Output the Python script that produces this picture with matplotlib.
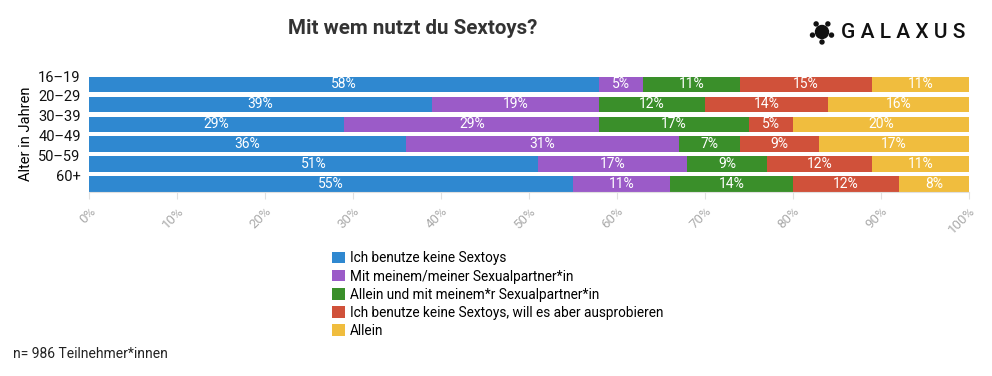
import numpy as np
import matplotlib
matplotlib.use("Agg")
import matplotlib.pyplot as plt
from matplotlib.patches import Patch, Circle

plt.rcParams['font.family'] = ['Roboto', 'DejaVu Sans']

ages = ["16–19", "20–29", "30–39", "40–49", "50–59", "60+"]
answers = ["Ich benutze keine Sextoys",
           "Mit meinem/meiner Sexualpartner*in",
           "Allein und mit meinem*r Sexualpartner*in",
           "Ich benutze keine Sextoys, will es aber ausprobieren",
           "Allein"]
keine      = [58, 39, 29, 36, 51, 55]
partner    = [5, 19, 29, 31, 17, 11]
beides     = [11, 12, 17, 7, 9, 14]
probieren  = [15, 14, 5, 9, 12, 12]
allein     = [11, 16, 20, 17, 11, 8]
colors = ["#2f88d0", "#9b5bc8", "#3a8f2a", "#d0513a", "#f0bd3e"]

series = [keine, partner, beides, probieren, allein]

fig = plt.figure(figsize=(9.92, 3.76), dpi=100)
ax = fig.add_axes([89/992, 1-192/376, 880/992, 116/376])

y = np.arange(len(ages))
left = np.zeros(len(ages))
for vals, col in zip(series, colors):
    vals = np.array(vals, dtype=float)
    ax.barh(y, vals, left=left, height=0.78, color=col, edgecolor='none', zorder=2)
    for yi, (l, v) in enumerate(zip(left, vals)):
        ax.text(l + v/2, yi, f"{int(v)}%", ha='center', va='center',
                color='white', fontsize=10, zorder=3)
    left += vals

ax.set_xlim(0, 100)
ax.set_ylim(len(ages) - 0.5 - 0.11, -0.5 + 0.11)
ax.set_xticks(np.arange(0, 101, 10))
ax.set_xticklabels([f"{t}%" for t in range(0, 101, 10)], rotation=45,
                   ha='right', va='top', rotation_mode='anchor', color='#aaaaaa', fontsize=9.5)
ax.set_yticks(y - 0.42)
ax.set_yticklabels(ages, fontsize=10.5, color='#111111')
ax.tick_params(axis='y', length=0, pad=6)
ax.tick_params(axis='x', length=5, color='#e0e0e0', pad=4)
for s in ['top', 'right', 'left']:
    ax.spines[s].set_visible(False)
ax.spines['bottom'].set_color('#e0e0e0')
ax.set_ylabel("Alter in Jahren", fontsize=10.5, labelpad=4)

fig.text(413/992, 1-28/376, "Mit wem nutzt du Sextoys?", ha='center', va='center',
         fontsize=14.8, fontweight='bold', color='#333333')

# logo
fig.text(841/992, 1-32/376, "G A L A X U S", ha='left', va='center',
         fontsize=15, fontweight='medium', color='#111111')
fig.add_artist(Circle((822, 376-32), 6.5, transform=None, color='#111111'))
for ang in np.linspace(90, 450, 6)[:-1]:
    a = np.radians(ang + 36)
    fig.add_artist(Circle((822 + 10*np.cos(a), 376-32 + 10*np.sin(a)), 2.0,
                          transform=None, color='#111111'))

handles = [Patch(facecolor=c, edgecolor='none') for c in colors]
fig.legend(handles, answers, loc='upper left', bbox_to_anchor=(327/992, 1-246/376),
           frameon=False, fontsize=9.8, handlelength=0.9, handleheight=0.9,
           handletextpad=0.4, labelspacing=0.3, borderaxespad=0)

fig.text(13/992, 1-354/376, "n= 986 Teilnehmer*innen", ha='left', va='center',
         fontsize=10, color='#222222')

fig.savefig("out.png", dpi=100)
